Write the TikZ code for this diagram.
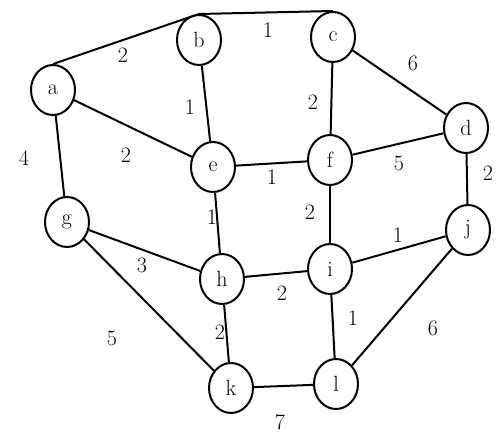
\documentclass[tikz,border=0pt]{standalone}
\usetikzlibrary{shapes.geometric}
\begin{document}
\begin{tikzpicture}[x=1pt,y=-1pt,
  vert/.style={draw, ellipse, line width=2pt, minimum width=44pt, minimum height=50pt, inner sep=0pt, font=\fontsize{22}{22}\selectfont},
  edge/.style={line width=2pt},
  wt/.style={font=\fontsize{22}{22}\selectfont, inner sep=0pt}]
\useasboundingbox (0,0) rectangle (496,433);
% vertices
\node[vert] (a) at (53,90) {a};
\node[vert] (b) at (199,40) {b};
\node[vert] (c) at (333,37) {c};
\node[vert] (d) at (466,128) {d};
\node[vert] (e) at (213,167) {e};
\node[vert] (f) at (330,160) {f};
\node[vert] (g) at (67,222) {g};
\node[vert] (h) at (222,279) {h};
\node[vert] (i) at (330,269) {i};
\node[vert] (j) at (468,230) {j};
\node[vert] (k) at (231,388) {k};
\node[vert] (l) at (336,384) {l};
% edges
\draw[edge] (a.north) -- (b.north);
\draw[edge] (b.north) -- (c.north);
\draw[edge] (c) -- (d);
\draw[edge] (c) -- (f);
\draw[edge] (b) -- (e);
\draw[edge] (a) -- (e);
\draw[edge] (a) -- (g);
\draw[edge] (e) -- (f);
\draw[edge] (f) -- (d);
\draw[edge] (d) -- (j);
\draw[edge] (e) -- (h);
\draw[edge] (f) -- (i);
\draw[edge] (g) -- (h);
\draw[edge] (h) -- (i);
\draw[edge] (i) -- (j);
\draw[edge] (h) -- (k);
\draw[edge] (i) -- (l);
\draw[edge] (g) -- (k);
\draw[edge] (j) -- (l);
\draw[edge] (k) -- (l);
% weights
\node[wt] (wab) at (123,55) {2};
\node[wt] (wbc) at (268,30) {1};
\node[wt] (wcd) at (413,63) {6};
\node[wt] (wcf) at (313,102) {2};
\node[wt] (wbe) at (190,107) {1};
\node[wt] (wae) at (126,155) {2};
\node[wt] (wag) at (24,158) {4};
\node[wt] (wef) at (272,177) {1};
\node[wt] (wfd) at (399,163) {5};
\node[wt] (wdj) at (488,173) {2};
\node[wt] (weh) at (212,217) {1};
\node[wt] (wfi) at (310,212) {2};
\node[wt] (wgh) at (142,265) {3};
\node[wt] (whi) at (282,293) {2};
\node[wt] (wij) at (398,235) {1};
\node[wt] (whk) at (220,332) {2};
\node[wt] (wil) at (353,318) {1};
\node[wt] (wgk) at (112,338) {5};
\node[wt] (wjl) at (433,328) {6};
\node[wt] (wkl) at (280,422) {7};
\end{tikzpicture}
\end{document}
